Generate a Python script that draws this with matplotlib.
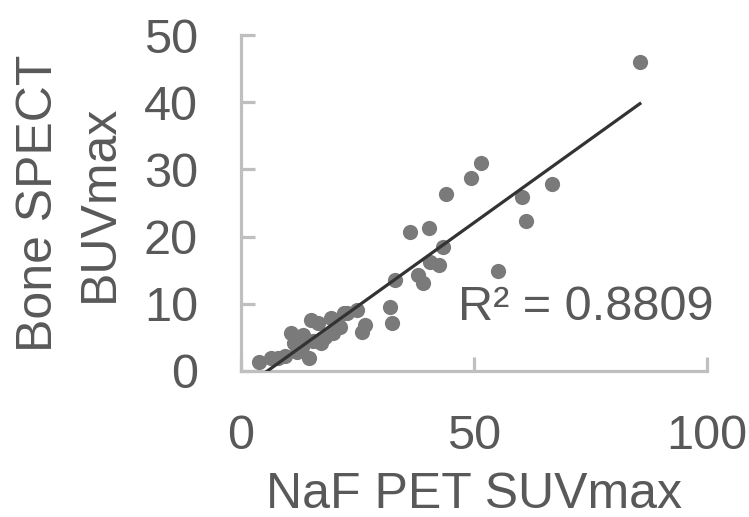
import numpy as np
import matplotlib
matplotlib.use('Agg')
import matplotlib.pyplot as plt

# NaF PET SUVmax vs Bone SPECT BUVmax
naf_suv = [3.9, 6.4, 7.9, 9.5, 10.7, 11.4, 12.0, 13.3, 13.0, 14.6,
           15.0, 16.5, 15.5, 17.2, 18.0, 19.3, 19.7, 21.2, 22.1, 22.7,
           24.9, 26.0, 26.6, 32.0, 32.4, 33.0, 36.3, 38.0, 39.1, 40.3,
           40.6, 42.5, 43.4, 44.0, 49.4, 51.5, 55.2, 60.3, 61.2, 66.7,
           85.6]
spect_buv = [1.4, 1.9, 2.0, 2.3, 5.6, 4.1, 2.8, 5.4, 3.5, 1.9,
             7.6, 7.1, 4.5, 4.1, 5.0, 7.9, 5.6, 6.6, 8.6, 8.7,
             9.1, 5.8, 6.8, 9.5, 7.1, 13.5, 20.7, 14.3, 13.1, 21.3,
             16.2, 15.8, 18.5, 26.3, 28.7, 31.0, 14.9, 25.9, 22.3, 27.8,
             46.0]
r2_label = 'R² = 0.8809'
x_ticks = [0, 50, 100]
y_ticks = [0, 10, 20, 30, 40, 50]

plt.rcParams['font.family'] = ['Liberation Sans', 'DejaVu Sans']
txt_color = '#595959'
axis_color = '#bfbfbf'

fig = plt.figure(figsize=(7.49, 5.17), dpi=100)
ax = fig.add_axes([0.3218, 0.2824, 0.6221, 0.6499])

ax.scatter(naf_suv, spect_buv, s=120, color='#7a7a7a', zorder=3, linewidths=0)

# linear trendline over the data range
x = np.array(naf_suv)
y = np.array(spect_buv)
k, b = np.polyfit(x, y, 1)
xs = np.array([x.min(), x.max()])
ax.plot(xs, k * xs + b, color='#333333', linewidth=2.3, zorder=4)

ax.text(74, 9.4, r2_label, fontsize=35, color=txt_color, ha='center', va='center')

ax.set_xlim(0, 100)
ax.set_ylim(0, 50)
ax.set_xticks(x_ticks)
ax.set_yticks(y_ticks)
for side in ['top', 'right']:
    ax.spines[side].set_visible(False)
for side in ['left', 'bottom']:
    ax.spines[side].set_color(axis_color)
    ax.spines[side].set_linewidth(2.3)
ax.tick_params(direction='in', length=10, width=2.3, color=axis_color,
               labelsize=35, labelcolor=txt_color, pad=31)

fig.text(0.093, 0.607, 'Bone SPECT\nBUVmax', rotation=90, fontsize=36,
         color=txt_color, ha='center', va='center', linespacing=1.4,
         multialignment='center')
fig.text(0.633, 0.018, 'NaF PET SUVmax', fontsize=36, color=txt_color,
         ha='center', va='baseline')

fig.savefig('out.png', dpi=100)
